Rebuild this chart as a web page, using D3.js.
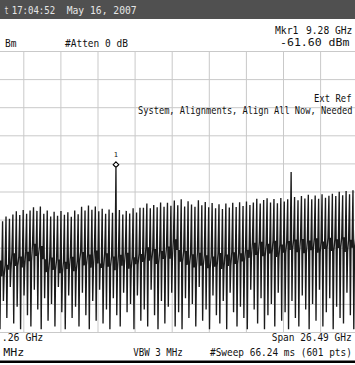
<!DOCTYPE html>
<html>
<head>
<meta charset="utf-8">
<script src="https://d3js.org/d3.v7.min.js"></script>
<style>
  html, body { margin: 0; padding: 0; background: #fff; overflow: hidden; }
</style>
</head>
<body>
<div id="chart"></div>
<script>
// sweep settings
const centerGHz = 13.26;
const spanGHz = 26.49;
const refLevel = -20;   // dBm, top graticule line
const dbPerDiv = 10;
const divisions = 10;

// comb trace, one entry per tooth (dBm): top of tooth, deep dip, noise floor
const peakLevels = [
  -80.5, -79.2, -81.0, -79.8, -80.6, -78.9, -79.7, -78.2,
  -77.0, -78.4, -76.6, -77.9, -76.8,
  -75.6, -76.9, -75.3,
  -77.9, -76.8, -78.9, -77.2, -78.6, -76.9, -78.3, -77.4, -79.0, -76.8, -78.1,
  -75.4, -76.8, -75.0, -76.5, -75.3, -77.0, -76.1, -77.9, -76.4, -77.6,
  -61.6,
  -76.6, -78.2, -76.9, -77.8, -76.0, -77.5, -75.8,
  -75.8, -74.3, -76.0, -74.8, -75.6, -73.9, -75.4, -74.0, -75.1,
  -73.2, -74.9, -72.8, -75.3, -73.5, -74.6, -75.4, -73.1, -74.9, -73.7,
  -75.6, -74.1, -76.0, -74.5, -76.2, -74.3, -75.7, -74.0, -75.5, -73.8, -75.2, -73.6, -74.8,
  -73.9, -72.6, -74.3, -73.0, -72.4, -73.9, -72.7, -74.2, -72.3, -73.6, -72.8,
  -63.1,
  -72.0, -73.1, -71.6, -72.5, -71.2, -72.8, -71.4, -72.6, -71.0, -72.2, -71.5, -70.8,
  -71.6, -70.1, -71.3, -69.8, -71.0, -69.6, -70.5
];
const dipLevels = [
  -112, -118, -106, -119, -109, -115, -104, -117, -111, -119, -107, -114,
  -118, -105, -112, -119, -108, -116, -110, -118, -104, -113, -119, -107,
  -115, -111, -118, -106, -114, -119, -109, -116, -105, -117, -112, -119,
  -108, -114, -118, -106, -113, -110, -119, -107, -116, -112, -118, -105,
  -114, -119, -109, -117, -111, -106, -118, -113, -119, -108, -115, -110,
  -118, -104, -116, -112, -119, -107, -114, -117, -109, -119, -106, -113,
  -118, -111, -115, -119, -105, -112, -117, -108, -119, -114, -110, -118,
  -106, -116, -113, -119, -109, -115, -118, -107, -112, -119, -110, -116,
  -105, -118, -113, -108, -119, -111, -115, -117, -106, -114, -119, -110
];
const floorLevels = [
  -99.5, -95.0, -98.8, -94.6, -100.2, -96.1, -97.8,
  -92.0, -96.5, -93.1, -97.0, -91.4, -94.8,
  -88.6, -92.9, -89.4, -94.1,
  -98.7, -93.5, -97.9, -94.2, -99.1, -95.0, -97.6, -93.2, -98.4, -94.7,
  -91.5, -96.3, -92.4, -97.1, -91.0, -95.6,
  -97.2, -92.0, -96.8, -93.1, -98.0, -92.5, -96.4, -91.8, -97.5, -93.4, -95.9, -92.2,
  -95.1, -89.8, -94.6, -90.5, -95.8, -91.2, -94.0, -89.6, -93.9, -87.0, -90.8,
  -95.0, -91.2, -96.1, -92.3, -97.0, -91.8, -96.4, -92.7, -97.3, -93.1, -96.8,
  -91.9, -97.6, -92.4, -96.5, -91.6, -95.8, -92.0, -94.9, -90.7, -93.6,
  -88.2, -92.6, -87.9, -93.0, -88.6, -92.1, -87.5, -93.3, -88.9, -91.8, -87.6,
  -90.8, -87.1, -91.6, -86.9, -92.0, -87.4, -90.9, -86.6, -91.8, -87.8,
  -90.4, -86.5, -91.2, -87.0, -90.1, -86.3, -91.5, -87.2, -90.0, -86.8
];

const markerFreq = 9.28;
const markerLevel = -61.6;
const markerName = '1';

// screen annotations (as visible, the screen is cropped on both sides)
const titleTexts = ['t', '17:04:52', 'May 16, 2007'];
const settingTexts = ['Bm', '#Atten 0 dB'];
const markerTexts = ['Mkr1', '9.28 GHz', '-61.60 dBm'];
const alertTexts = ['Ext Ref', 'System, Alignments, Align All Now, Needed'];
const freqTexts = ['.26 GHz', 'Span 26.49 GHz'];
const bandTexts = ['MHz', 'VBW 3 MHz', '#Sweep 66.24 ms (601 pts)'];

const width = 355, height = 365;
const grid = { left: -13.8, right: 357.2, top: 51, bottom: 332 };

const svg = d3.select('#chart').append('svg')
  .attr('width', width)
  .attr('height', height)
  .style('display', 'block');

const startGHz = centerGHz - spanGHz / 2;
const stopGHz = centerGHz + spanGHz / 2;

const x = d3.scaleLinear().domain([startGHz, stopGHz]).range([grid.left, grid.right]);
const y = d3.scaleLinear()
  .domain([refLevel - dbPerDiv * divisions, refLevel])
  .range([grid.bottom, grid.top]);

// title bar
svg.append('rect')
  .attr('x', 0).attr('y', 0)
  .attr('width', width).attr('height', 19)
  .attr('fill', '#505050');

const font = "'DejaVu Sans Mono', monospace";

// condensed screen font: squeeze each string to the width it has on screen
function label(str, px, py, w, opts = {}) {
  const t = svg.append('text')
    .attr('x', 0)
    .attr('y', 0)
    .attr('text-anchor', opts.anchor || 'start')
    .style('font-family', font)
    .style('font-size', (opts.size || 11) + 'px')
    .attr('fill', opts.color || '#111')
    .text(str);
  const sx = w ? w / t.node().getComputedTextLength() : 1;
  t.attr('transform', `translate(${px},${py}) scale(${sx},1)`);
  return t;
}

label(titleTexts[0], 4.5, 14, 4, { color: '#e6e6e6' });
label(titleTexts[1], 11.7, 14, 43.5, { color: '#e6e6e6' });
label(titleTexts[2], 66.7, 14, 70, { color: '#e6e6e6' });

label(settingTexts[0], 5, 46.5, 11.5);
label(settingTexts[1], 65, 46.5, 63);

label(markerTexts[0], 275, 33.5, 23.5);
label(markerTexts[1], 306, 33.5, 46.5);
label(markerTexts[2], 280, 45.5, 69.5);

// graticule
const gridFreqs = d3.range(divisions + 1).map(k => startGHz + k * spanGHz / divisions);
const gridLevels = d3.range(divisions + 1).map(k => refLevel - k * dbPerDiv);

const gx = svg.append('g')
  .attr('transform', `translate(0,${grid.bottom})`)
  .call(d3.axisBottom(x).tickValues(gridFreqs).tickSize(-(grid.bottom - grid.top)).tickFormat(''));
gx.select('.domain').remove();
gx.selectAll('line').attr('stroke', '#c9c9c9');

const gy = svg.append('g')
  .attr('transform', `translate(${grid.left},0)`)
  .call(d3.axisLeft(y).tickValues(gridLevels).tickSize(-(grid.right - grid.left)).tickFormat(''));
gy.select('.domain').remove();
gy.selectAll('line').attr('stroke', '#c9c9c9');

label(alertTexts[0], 314, 101.7, 37.5);
label(alertTexts[1], 138, 114.3, 214.5);

// trace: each tooth rises from the floor, drops into a dip, comes back to the floor
const toothStep = spanGHz / peakLevels.length;
const tracePts = [];
peakLevels.forEach((p, i) => {
  const c = startGHz + (i + 0.77) * toothStep;
  tracePts.push([c - 0.28 * toothStep, floorLevels[i]]);
  tracePts.push([c, p]);
  tracePts.push([c + 0.24 * toothStep, dipLevels[i]]);
  tracePts.push([c + 0.44 * toothStep, floorLevels[i]]);
});

svg.append('clipPath').attr('id', 'plot-clip')
  .append('rect')
  .attr('x', grid.left).attr('y', grid.top)
  .attr('width', grid.right - grid.left)
  .attr('height', grid.bottom - grid.top);

svg.append('path')
  .datum(tracePts)
  .attr('clip-path', 'url(#plot-clip)')
  .attr('d', d3.line().x(d => x(d[0])).y(d => y(d[1])))
  .attr('fill', 'none')
  .attr('stroke', '#1a1a1a')
  .attr('stroke-width', 1.35);

// marker 1
const mx = x(markerFreq), my = y(markerLevel);
svg.append('path')
  .attr('d', `M${mx},${my - 6} L${mx + 2.8},${my - 3.2} L${mx},${my - 0.4} L${mx - 2.8},${my - 3.2} Z`)
  .attr('fill', '#fff')
  .attr('stroke', '#000')
  .attr('stroke-width', 1.1);
label(markerName, mx, my - 10.5, null, { anchor: 'middle', size: 7 });

// bottom annotations
label(freqTexts[0], 1.7, 341, 41.6);
label(freqTexts[1], 271.7, 341, 80);
label(bandTexts[0], 3.3, 356, 21);
label(bandTexts[1], 133.3, 356, 49.5);
label(bandTexts[2], 210, 356, 142);

svg.append('rect')
  .attr('x', 0).attr('y', 360.5)
  .attr('width', width).attr('height', 2.5)
  .attr('fill', '#000');
</script>
</body>
</html>
